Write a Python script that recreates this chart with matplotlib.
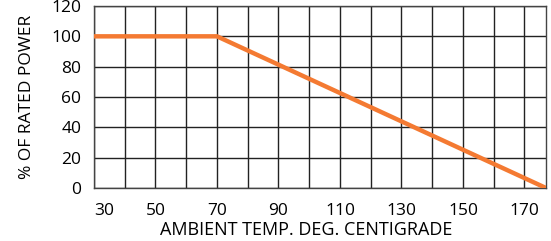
import matplotlib
matplotlib.use("Agg")
import matplotlib.pyplot as plt

# derating curve
temps = [30, 70, 177]
power = [100, 100, 0]
xticks = [30, 50, 70, 90, 110, 130, 150, 170]
yticks = [0, 20, 40, 60, 80, 100, 120]

plt.rcParams['font.family'] = ['Open Sans', 'DejaVu Sans']

fig = plt.figure(figsize=(5.51, 2.41), dpi=100)
ax = fig.add_axes([94 / 551, 1 - 188 / 241, (546 - 94) / 551, (188 - 6) / 241])

ax.plot(temps, power, color="#F47A32", linewidth=3.2, solid_capstyle="butt", clip_on=True, zorder=3)

ax.set_xlim(30, 177)
ax.set_ylim(0, 120)
ax.set_xticks(xticks)
ax.set_xticks(range(40, 171, 20), minor=True)
ax.set_yticks(yticks)
ax.grid(True, which="both", color="#222222", linewidth=1.0)
ax.tick_params(which="both", length=0)
ax.tick_params(axis="x", pad=10.5, labelsize=12.5)
ax.tick_params(axis="y", pad=9, labelsize=12.5)
ax.get_xticklabels()[0].set_horizontalalignment("left")
for s in ax.spines.values():
    s.set_color("#444444")
    s.set_linewidth(1.0)

ax.set_xlabel("AMBIENT TEMP. DEG. CENTIGRADE", fontsize=13, labelpad=3)
ax.xaxis.set_label_coords(0.47, -0.18)
ax.xaxis.label.set_verticalalignment("top")
ax.set_ylabel("% OF RATED POWER", fontsize=12.5, labelpad=12)

fig.savefig("out.png", dpi=100)
